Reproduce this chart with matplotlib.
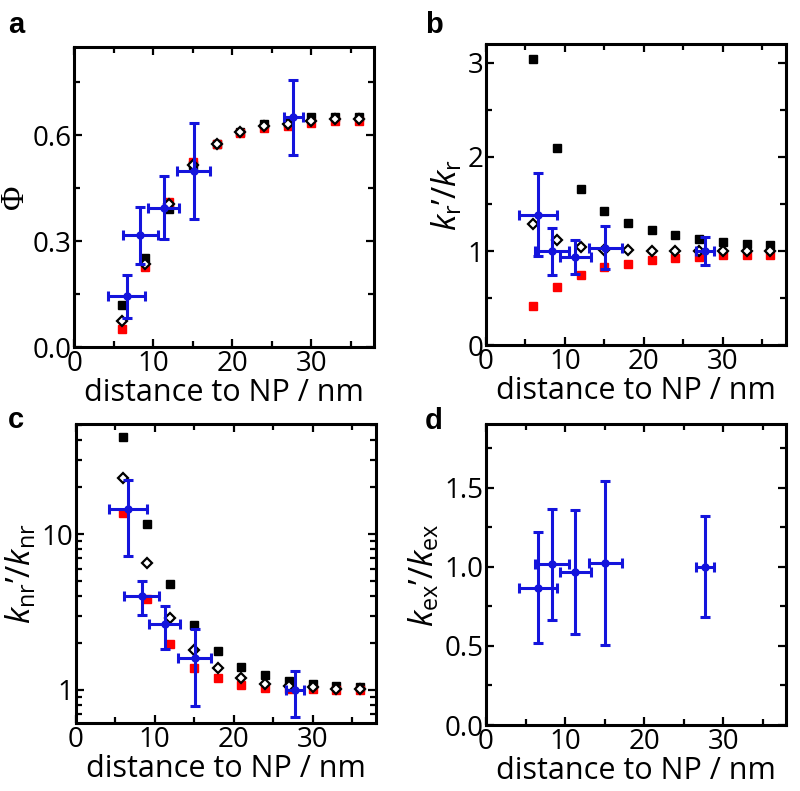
import numpy as np
import matplotlib
matplotlib.use("Agg")
import matplotlib.pyplot as plt
from matplotlib.ticker import MultipleLocator, FixedLocator, FixedFormatter, NullFormatter, FormatStrFormatter

plt.rcParams['font.family'] = ['Open Sans', 'DejaVu Sans']
plt.rcParams['mathtext.fontset'] = 'custom'
plt.rcParams['mathtext.rm'] = 'Open Sans'
plt.rcParams['mathtext.it'] = 'Open Sans:italic'

# simulated distances (nm)
dist = [6, 9, 12, 15, 18, 21, 24, 27, 30, 33, 36]

# measured points (blue): distance, x error
meas_x = [6.6, 8.35, 11.3, 15.1, 27.75]
meas_xerr = [2.4, 2.2, 1.95, 2.1, 1.15]

# a: quantum yield
phi_black = [0.119, 0.251, 0.39, 0.515, 0.575, 0.61, 0.63, 0.635, 0.65, 0.65, 0.652]
phi_red = [0.053, 0.227, 0.41, 0.525, 0.575, 0.607, 0.62, 0.625, 0.635, 0.64, 0.64]
phi_diam = [0.074, 0.235, 0.405, 0.515, 0.575, 0.608, 0.625, 0.63, 0.64, 0.645, 0.645]
phi_meas = [0.144, 0.317, 0.395, 0.499, 0.65]
phi_err = [0.061, 0.081, 0.088, 0.136, 0.105]

# b: radiative rate enhancement
kr_black = [3.04, 2.09, 1.66, 1.43, 1.30, 1.22, 1.17, 1.125, 1.10, 1.08, 1.07]
kr_red = [0.415, 0.62, 0.745, 0.83, 0.86, 0.905, 0.93, 0.94, 0.955, 0.96, 0.96]
kr_diam = [1.285, 1.12, 1.04, 1.01, 1.01, 1.0, 1.0, 1.0, 1.0, 1.0, 1.0]
kr_meas = [1.385, 1.0, 0.94, 1.035, 1.0]
kr_err = [0.44, 0.25, 0.18, 0.23, 0.15]

# c: non-radiative rate enhancement (log)
knr_black = [42, 11.6, 4.8, 2.63, 1.79, 1.41, 1.24, 1.14, 1.09, 1.066, 1.04]
knr_red = [13.6, 3.84, 1.97, 1.38, 1.19, 1.077, 1.035, 1.02, 1.01, 1.0, 1.0]
knr_diam = [23.1, 6.5, 2.9, 1.8, 1.39, 1.2, 1.1, 1.066, 1.04, 1.02, 1.01]
knr_meas = [14.5, 4.0, 2.65, 1.61, 1.0]
knr_lo = [7.2, 3.03, 1.83, 0.79, 0.67]
knr_hi = [22.3, 4.97, 3.48, 2.45, 1.33]

# d: excitation rate enhancement
kex_meas = [0.869, 1.017, 0.968, 1.023, 1.0]
kex_err = [0.35, 0.35, 0.39, 0.52, 0.32]

blue = '#1414dc'

fig = plt.figure(figsize=(8, 7.91), dpi=100)
ax_a = fig.add_axes([0.093, 0.561, 0.375, 0.38])
ax_b = fig.add_axes([0.6075, 0.5635, 0.375, 0.381])
ax_c = fig.add_axes([0.0946, 0.086, 0.375, 0.378])
ax_d = fig.add_axes([0.6075, 0.0834, 0.3755, 0.38])


def sim(ax, black, red, diam):
    ax.plot(dist, black, 's', color='black', ms=5.5, zorder=3)
    ax.plot(dist, red, 's', color='red', ms=5.5, zorder=3)
    ax.plot(dist, diam, 'D', mfc='white', mec='black', mew=1.6, ms=4.8, zorder=4)


def meas(ax, y, yerr):
    ax.errorbar(meas_x, y, xerr=meas_xerr, yerr=yerr, fmt='o', color=blue,
                ms=5, elinewidth=2.2, capsize=3.5, capthick=2.2, zorder=5)


def style(ax):
    ax.set_xlim(0, 38)
    ax.xaxis.set_major_locator(MultipleLocator(10))
    ax.xaxis.set_minor_locator(MultipleLocator(5))
    ax.tick_params(which='both', direction='in', top=True, right=True,
                   labelsize=20, width=1.6)
    ax.tick_params(axis='y', pad=2)
    ax.tick_params(axis='x', pad=2)
    ax.tick_params(which='major', length=6)
    ax.tick_params(which='minor', length=4)
    for s in ax.spines.values():
        s.set_linewidth(2.2)
    ax.set_xlabel('distance to NP / nm', fontsize=22, labelpad=0)


sim(ax_a, phi_black, phi_red, phi_diam)
meas(ax_a, phi_meas, phi_err)
style(ax_a)
ax_a.set_ylim(0, 0.85)
ax_a.yaxis.set_major_locator(MultipleLocator(0.3))
ax_a.yaxis.set_minor_locator(MultipleLocator(0.15))
ax_a.set_ylabel('Φ', fontsize=24, family='Liberation Serif', labelpad=2)

sim(ax_b, kr_black, kr_red, kr_diam)
meas(ax_b, kr_meas, kr_err)
style(ax_b)
ax_b.set_ylim(0, 3.2)
ax_b.yaxis.set_major_locator(MultipleLocator(1))
ax_b.yaxis.set_minor_locator(MultipleLocator(0.5))
ax_b.set_ylabel(r'$k_{\mathrm{r}}$’/$k_{\mathrm{r}}$', fontsize=24, labelpad=2)

sim(ax_c, knr_black, knr_red, knr_diam)
knr_yerr = [np.array(knr_meas) - np.array(knr_lo), np.array(knr_hi) - np.array(knr_meas)]
meas(ax_c, knr_meas, knr_yerr)
style(ax_c)
ax_c.set_yscale('log')
ax_c.set_ylim(0.614, 51)
ax_c.yaxis.set_major_locator(FixedLocator([1, 10]))
ax_c.yaxis.set_major_formatter(FixedFormatter(['1', '10']))
ax_c.yaxis.set_minor_locator(FixedLocator([0.7, 0.8, 0.9, 2, 3, 4, 5, 6, 7, 8, 9, 20, 30, 40, 50]))
ax_c.yaxis.set_minor_formatter(NullFormatter())
ax_c.set_ylabel(r'$k_{\mathrm{nr}}$’/$k_{\mathrm{nr}}$', fontsize=24, labelpad=2)

meas(ax_d, kex_meas, kex_err)
style(ax_d)
ax_d.set_ylim(0, 1.9)
ax_d.yaxis.set_major_locator(MultipleLocator(0.5))
ax_d.yaxis.set_minor_locator(MultipleLocator(0.25))
ax_d.yaxis.set_major_formatter(FormatStrFormatter('%.1f'))
ax_d.set_ylabel(r'$k_{\mathrm{ex}}$’/$k_{\mathrm{ex}}$', fontsize=24, labelpad=2)

for txt, x, y in [('a', 0.01, 0.968), ('b', 0.531, 0.968), ('c', 0.01, 0.469), ('d', 0.531, 0.468)]:
    fig.text(x, y, txt, fontsize=21, fontweight='bold', va='center', family='Liberation Sans')

fig.savefig('out.png', dpi=100)
